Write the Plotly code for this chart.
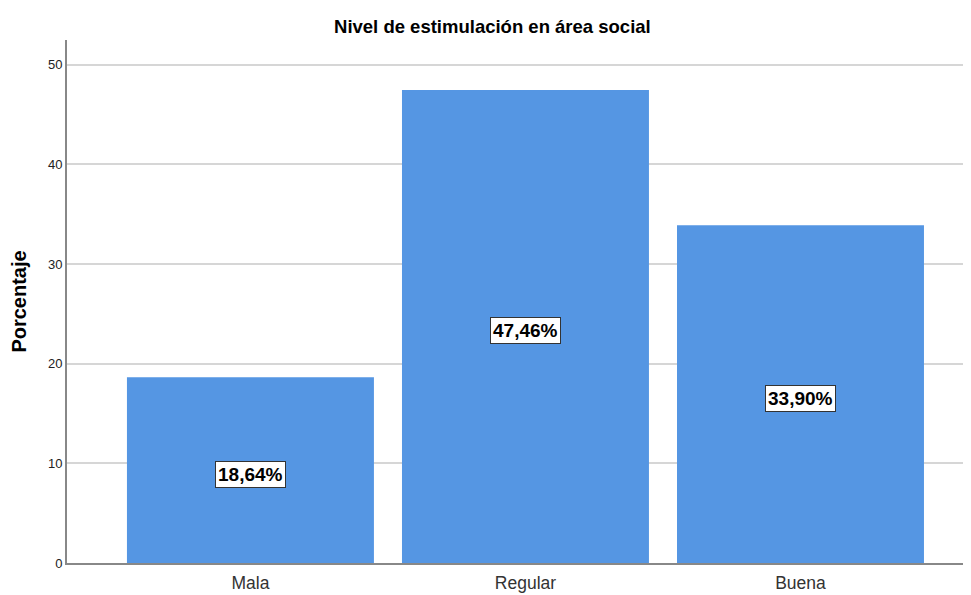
import plotly.graph_objects as go

categories = ["Mala", "Regular", "Buena"]
values = [18.64, 47.46, 33.90]
labels = ["18,64%", "47,46%", "33,90%"]
y_ticks = [0, 10, 20, 30, 40, 50]

fig = go.Figure()
fig.add_trace(go.Bar(
    x=categories, y=values,
    marker=dict(color="#5596E3", line=dict(width=0)),
    width=0.898,
    hoverinfo="skip",
))

for c, v, t in zip(categories, values, labels):
    fig.add_annotation(
        x=c, y=v / 2, text="<b>" + t + "</b>", showarrow=False, yshift=-4,
        font=dict(family="Liberation Sans, Arial", size=19, color="black"),
        bgcolor="white", bordercolor="#333333", borderwidth=1, borderpad=2,
    )

fig.update_layout(
    width=963, height=587,
    margin=dict(l=59, r=0, t=32, b=32, autoexpand=False),
    plot_bgcolor="white", paper_bgcolor="white",
    showlegend=False,
    title=dict(text="<b>Nivel de estimulación en área social</b>",
               x=0.503, xanchor="center", y=0.969, yanchor="middle",
               font=dict(family="Liberation Sans, Arial", size=18.5, color="black")),
    xaxis=dict(range=[-0.667, 2.62], showgrid=False, showline=True,
               linecolor="#888888", linewidth=2, ticks="", automargin=False,
               ticklabelstandoff=3,
               tickfont=dict(family="Liberation Sans, Arial", size=17.5, color="#333333")),
    yaxis=dict(range=[0, 52.48], tickvals=y_ticks, showgrid=True,
               gridcolor="#d6d6d6", gridwidth=2, showline=True,
               linecolor="#888888", linewidth=2, ticks="", zeroline=False,
               automargin=False,
               tickfont=dict(family="Liberation Sans, Arial", size=13, color="#222222"),
               title=dict(text="<b>Porcentaje</b>", standoff=17,
                          font=dict(family="Liberation Sans, Arial", size=20, color="black"))),
)

fig.write_html("out.html")
